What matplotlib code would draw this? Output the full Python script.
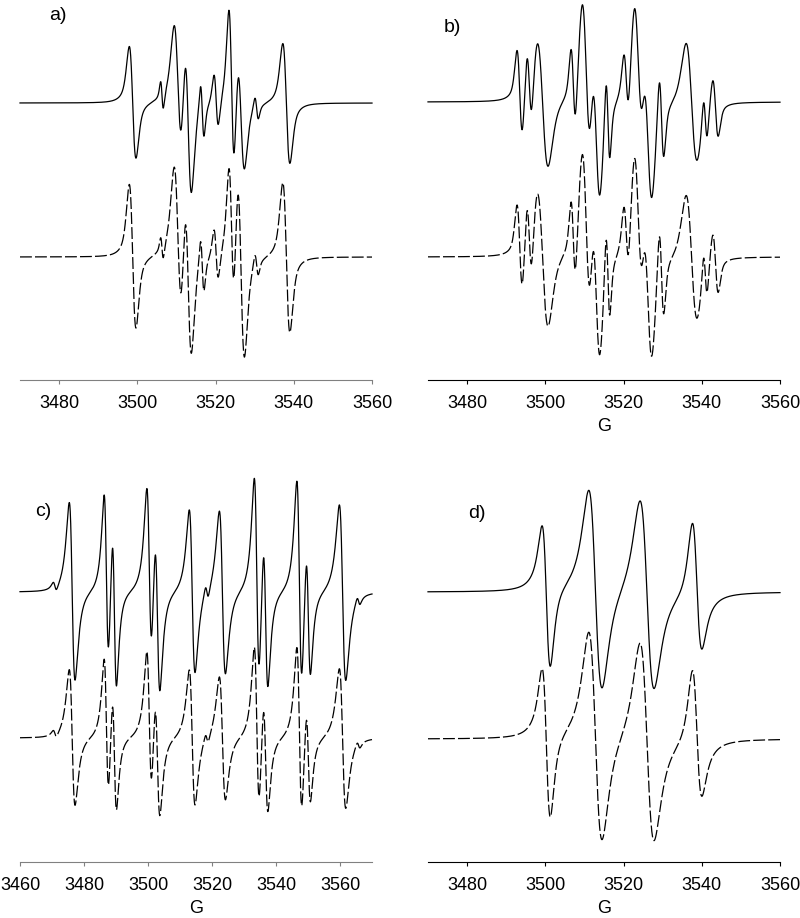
import numpy as np
import matplotlib.pyplot as plt

plt.rcParams['font.family'] = ['Liberation Sans', 'DejaVu Sans']

# line lists: centre (G), peak-to-peak width (G), amplitude
# a)
a_centres = [3498.8, 3506.3, 3510.4, 3513.0, 3516.6, 3520.15, 3524.1, 3526.5, 3530.5, 3538.1]
a_widths = [1.7, 0.7, 2.0, 1.7, 0.9, 1.1, 1.4, 1.8, 0.9, 1.8]
a_exp = [56, 15, 70, 80, 28, 27, 85, 60, 12, 60]
a_sim = [72, 12, 82, 85, 28, 26, 75, 95, 12, 75]
a_lorentz = 0.6

# b)
b_centres = [3493.45, 3495.9, 3499.3, 3507.15, 3510.5, 3513.0, 3516.0, 3520.7, 3523.8,
             3526.2, 3529.7, 3537.4, 3540.9, 3543.5]
b_widths = [1.4, 1.3, 2.8, 1.2, 2.2, 2.0, 1.0, 1.3, 2.2, 2.2, 1.2, 2.8, 1.0, 1.4]
b_exp = [45, 40, 65, 42, 92, 82, 45, 35, 85, 85, 45, 60, 25, 30]
b_sim = [45, 42, 70, 44, 97, 86, 47, 37, 90, 88, 47, 63, 26, 31]
b_lorentz = 0.5

# c)
c_centres = [3470.9, 3476.3, 3487.0, 3489.5, 3500.4, 3502.95, 3513.8, 3518.4, 3523.25,
             3534.0, 3536.75, 3547.3, 3550.1, 3560.8, 3565.8]
c_widths = [1.1, 1.8, 1.45, 1.35, 1.6, 1.6, 1.8, 1.0, 1.9, 1.6, 1.5, 1.6, 1.4, 2.0, 1.0]
c_exp = [5, 89, 88, 82, 90, 85, 82, 8, 82, 105, 80, 105, 68, 88, 5]
c_sim = [4, 68, 72, 62, 76, 66, 68, 6, 62, 84, 62, 86, 52, 70, 4]
c_lorentz = 1.0

# d)
d_centres = [3500.35, 3512.8, 3526.0, 3538.6]
d_widths = [2.1, 3.4, 3.6, 2.4]
d_exp = [70, 100, 95, 62]
d_sim = [74, 105, 100, 62]
d_disp = [-20, 0, 0, 25]      # dispersive admixture (line asymmetry)
d_lorentz = 0.85


def spectrum(field, centres, widths, amps, eta, disp=None):
    # first-derivative pseudo-Voigt lines, amplitude = lobe height
    if disp is None:
        disp = [0] * len(centres)
    y = np.zeros_like(field)
    for c, pp, a, m in zip(centres, widths, amps, disp):
        u = (field - c) / (pp * np.sqrt(3) / 2)
        lor = -u / (1 + u ** 2) ** 2 / 0.32476
        v = (field - c) / (pp / 2)
        gau = -v * np.exp(-v ** 2 / 2) / 0.60653
        y += a * (eta * lor + (1 - eta) * gau)
        y += m * (1 - u ** 2) / (1 + u ** 2) ** 2
    return y


fig = plt.figure(figsize=(8, 9.18), dpi=100)

panels = [
    ("a)", [0.025, 0.5861, 0.44, 0.4139], (3470, 3560), np.arange(3480, 3561, 20),
     a_centres, a_widths, a_exp, a_sim, a_lorentz, None,
     277, 123, 380, '#808080', False, (58, 16)),
    ("b)", [0.535, 0.5861, 0.44, 0.4139], (3470, 3560), np.arange(3480, 3561, 20),
     b_centres, b_widths, b_exp, b_sim, b_lorentz, None,
     278, 123, 380, 'black', True, (452, 27)),
    ("c)", [0.025, 0.0610, 0.44, 0.4488], (3460, 3570), np.arange(3460, 3561, 20),
     c_centres, c_widths, c_exp, c_sim, c_lorentz, None,
     270, 124, 412, '#808080', True, (43, 512)),
    ("d)", [0.535, 0.0610, 0.44, 0.4488], (3470, 3560), np.arange(3480, 3561, 20),
     d_centres, d_widths, d_exp, d_sim, d_lorentz, d_disp,
     270, 123, 412, 'black', True, (477, 514)),
]

for (label, rect, xlim, ticks, cen, wid, exp_amp, sim_amp, eta, disp, base_exp, base_sim,
     height, axcol, xlab, labpos) in panels:
    ax = fig.add_axes(rect)
    field = np.linspace(xlim[0], xlim[1], 3000)
    ax.plot(field, base_exp + spectrum(field, cen, wid, exp_amp, eta, disp),
            color='black', lw=0.9, clip_on=False)
    ax.plot(field, base_sim + spectrum(field, cen, wid, sim_amp, eta, disp),
            color='black', lw=0.9, dashes=(9.5, 2.5), clip_on=False)
    ax.set_xlim(*xlim)
    ax.set_ylim(0, height)
    for s in ['top', 'right', 'left']:
        ax.spines[s].set_visible(False)
    ax.spines['bottom'].set_color(axcol)
    ax.set_yticks([])
    ax.set_xticks(ticks)
    ax.tick_params(axis='x', direction='out', length=3, width=0.8, colors=axcol,
                   labelcolor='black', labelsize=13, pad=8)
    if xlab:
        ax.set_xlabel('G', fontsize=13, labelpad=4)
    fig.text(labpos[0] / 800, 1 - labpos[1] / 918, label, fontsize=14,
             ha='center', va='center')

fig.savefig('out.png', dpi=100)
